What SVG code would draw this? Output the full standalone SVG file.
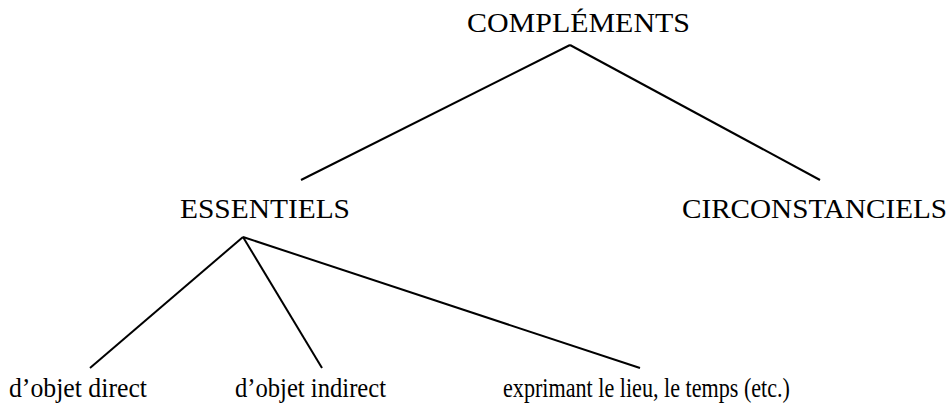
<svg xmlns="http://www.w3.org/2000/svg" width="951" height="407" viewBox="0 0 951 407">
<style>
text{font-family:"Liberation Serif","Times New Roman",serif;fill:#000}
.t{font-size:27px}
.b{font-size:28px}
line{stroke:#000;stroke-width:2}
</style>
<rect width="951" height="407" fill="#fff"/>
<g id="connectors">
<line x1="570" y1="45" x2="301" y2="180"/>
<line x1="570" y1="45" x2="820" y2="180"/>
<line x1="243" y1="237" x2="90" y2="368"/>
<line x1="243" y1="237" x2="322" y2="368"/>
<line x1="243" y1="237" x2="640" y2="368"/>
</g>
<g id="complements"><text class="t" x="467" y="32" textLength="223" lengthAdjust="spacingAndGlyphs">COMPLÉMENTS</text></g>
<g id="essentiels"><text class="t" x="180" y="218" textLength="170" lengthAdjust="spacingAndGlyphs">ESSENTIELS</text></g>
<g id="circonstanciels"><text class="t" x="682" y="218" textLength="265" lengthAdjust="spacingAndGlyphs">CIRCONSTANCIELS</text></g>
<g id="objet-direct"><text class="b" x="9" y="397" textLength="138" lengthAdjust="spacingAndGlyphs">d’objet direct</text></g>
<g id="objet-indirect"><text class="b" x="235" y="397" textLength="151" lengthAdjust="spacingAndGlyphs">d’objet indirect</text></g>
<g id="lieu-temps"><text class="b" x="503" y="397" textLength="287" lengthAdjust="spacingAndGlyphs">exprimant le lieu, le temps (etc.)</text></g>
</svg>
